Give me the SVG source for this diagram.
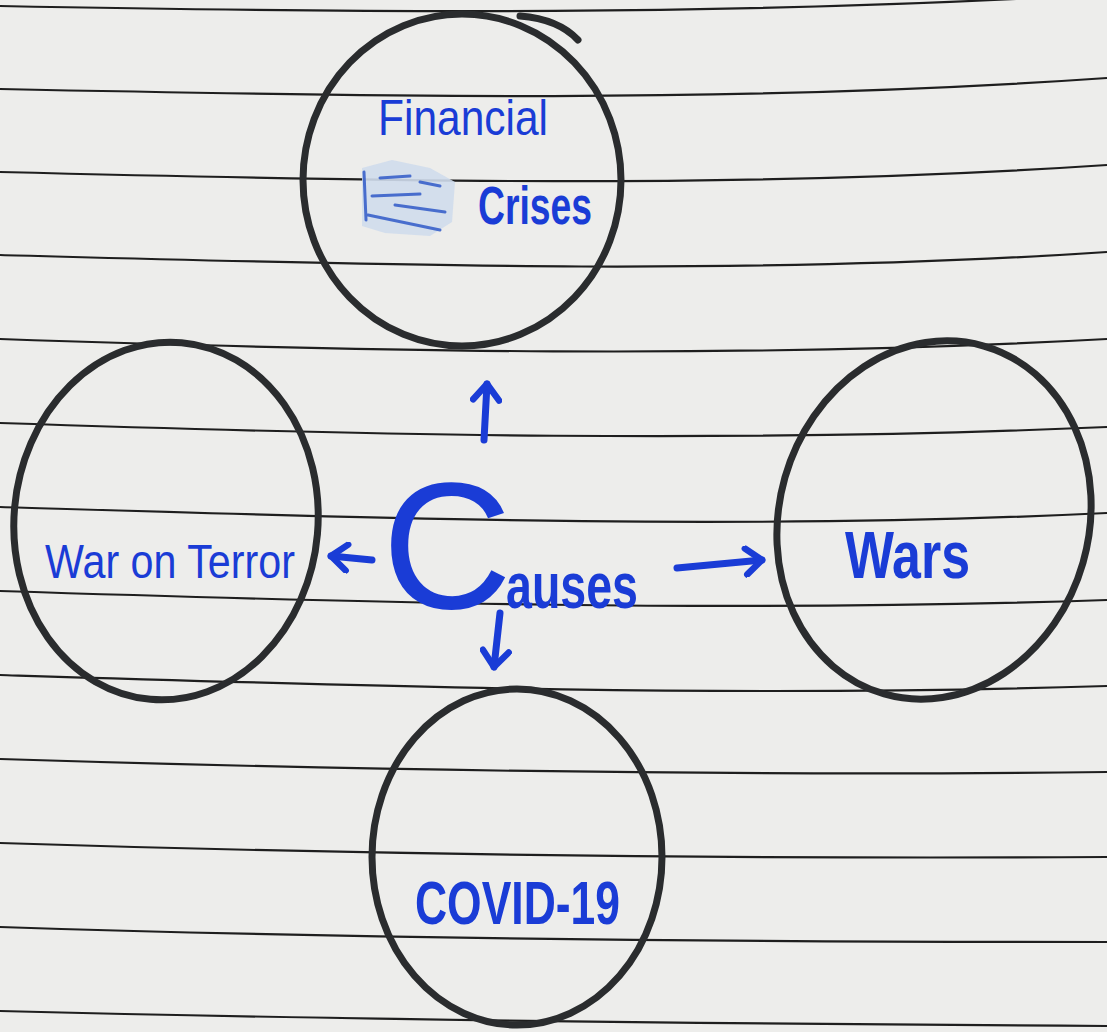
<svg xmlns="http://www.w3.org/2000/svg" width="1107" height="1032" viewBox="0 0 1107 1032">
<style>
.rule{fill:none;stroke:#1e1e1e;stroke-width:2.2}
.ring{fill:none;stroke:#2a2c2e;stroke-width:7;stroke-linecap:round}
.ink{fill:#1a3cd6;font-family:"Liberation Sans",Arial,sans-serif}
.arrow{fill:none;stroke:#1a3cd6;stroke-width:7;stroke-linecap:round;stroke-linejoin:round}
</style>
<defs>
<marker id="head" markerUnits="userSpaceOnUse" viewBox="-20 -16 24 32" refX="0" refY="0" markerWidth="24" markerHeight="32" orient="auto">
<path d="M-16,-13 L0,0 L-16,13" fill="none" stroke="#1a3cd6" stroke-width="6.5" stroke-linecap="round" stroke-linejoin="round"/>
</marker>
</defs>
<rect x="0" y="0" width="1107" height="1032" fill="#ededeb"/>
<g id="ruled-paper">
<path class="rule" d="M0,6 C369,13 738,16 1107,-6"/>
<path class="rule" d="M0,89 C369,96.6 738,103.8 1107,78"/>
<path class="rule" d="M0,172 C369,181 738,189.8 1107,165"/>
<path class="rule" d="M0,255 C369,264.8 738,276.5 1107,252"/>
<path class="rule" d="M0,339 C369,351.6 738,359.3 1107,339"/>
<path class="rule" d="M0,423 C369,435.4 738,443.2 1107,427"/>
<path class="rule" d="M0,507 C369,518.1 738,530.9 1107,513"/>
<path class="rule" d="M0,591 C369,602.8 738,612.8 1107,600"/>
<path class="rule" d="M0,675 C369,686.3 738,698 1107,686"/>
<path class="rule" d="M0,759 C369,770.6 738,776 1107,772"/>
<path class="rule" d="M0,843 C369,854.9 738,859 1107,857"/>
<path class="rule" d="M0,927 C369,939.2 738,942 1107,942"/>
<path class="rule" d="M0,1011 C369,1020.3 738,1024 1107,1026"/>
</g>
<g id="node-financial-crises">
<ellipse class="ring" cx="462" cy="180" rx="159" ry="166"/>
<path class="ring" d="M520,16 C545,18 565,26 578,40" stroke-width="6"/>
<path d="M362,168 L392,160 L430,168 L455,182 L452,222 L430,236 L385,233 L362,226 Z" fill="#cfdcec" opacity="0.9"/>
<path d="M364,172 L366,220 M380,178 L410,176 M372,196 L420,194 M368,215 L440,230 M395,205 L445,212 M420,182 L440,186" fill="none" stroke="#2f59c8" stroke-width="3" stroke-linecap="round" opacity="0.85"/>
<text class="ink" x="378" y="135" font-size="50" textLength="170" lengthAdjust="spacingAndGlyphs">Financial</text>
<text class="ink" x="478" y="224" font-size="54" font-weight="bold" textLength="114" lengthAdjust="spacingAndGlyphs">Crises</text>
</g>
<g id="node-war-on-terror">
<ellipse class="ring" cx="166" cy="521" rx="152" ry="179" transform="rotate(5 166 521)"/>
<text class="ink" x="45" y="578" font-size="48" textLength="250" lengthAdjust="spacingAndGlyphs">War on Terror</text>
</g>
<g id="node-wars">
<ellipse class="ring" cx="934" cy="520" rx="155" ry="181" transform="rotate(16 934 520)"/>
<text class="ink" x="845" y="578" font-size="66" font-weight="bold" textLength="125" lengthAdjust="spacingAndGlyphs">Wars</text>
</g>
<g id="node-covid-19">
<ellipse class="ring" cx="517" cy="857" rx="145" ry="168"/>
<text class="ink" x="415" y="924" font-size="62" font-weight="bold" textLength="205" lengthAdjust="spacingAndGlyphs">COVID-19</text>
</g>
<g id="node-causes">
<text class="ink" x="382" y="608"><tspan font-size="180">C</tspan><tspan font-size="64" dx="-6" font-weight="bold" textLength="132" lengthAdjust="spacingAndGlyphs">auses</tspan></text>
</g>
<g id="connectors">
<path class="arrow" d="M484,440 L487,384" marker-end="url(#head)"/>
<path class="arrow" d="M372,560 L331,556" marker-end="url(#head)"/>
<path class="arrow" d="M677,568 L762,560" marker-end="url(#head)"/>
<path class="arrow" d="M500,613 L494,667" marker-end="url(#head)"/>
</g>
</svg>
